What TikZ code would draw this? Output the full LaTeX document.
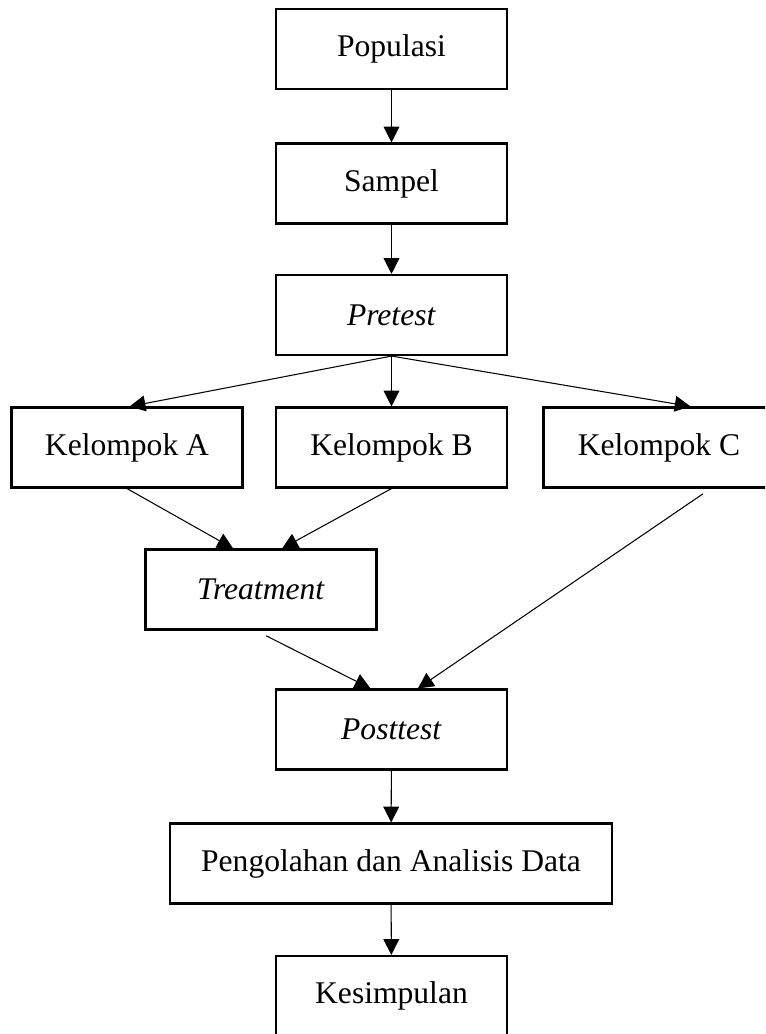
\documentclass[tikz,border=0pt]{standalone}
\usepackage{fontspec}
\setmainfont{Liberation Serif}
\usetikzlibrary{arrows.meta}

\begin{document}
\begin{tikzpicture}[
  x=0.38pt, y={(0pt,-0.38pt)},
  box/.style={draw, line width=0.8pt, minimum width=87.8pt, minimum height=30.4pt,
              inner sep=2pt, font=\fontsize{12pt}{14pt}\selectfont},
  wide/.style={box, minimum width=168pt},
  arr/.style={-{Triangle[length=6pt,width=6pt]}, line width=0.4pt},
]
\path[use as bounding box, clip] (0,0) rectangle (765,1034);

\node[box] (pop) at (391.5,49) {Populasi};
\node[box] (smp) at (391.5,183.5) {Sampel};
\node[box] (pre) at (391.5,315) {\textit{Pretest}};

\node[box] (ka) at (127,447.5) {Kelompok A};
\node[box] (kb) at (391.5,447.5) {Kelompok B};
\node[box] (kc) at (659,447.5) {Kelompok C};

\node[box] (trt) at (261,589.5) {\textit{Treatment}};
\node[box] (post) at (391.5,729.5) {\textit{Posttest}};
\node[wide] (olah) at (391,863.5) {Pengolahan dan Analisis Data};
\node[box] (simp) at (391.5,996) {Kesimpulan};

\draw[arr] (pop) -- (smp);
\draw[arr] (smp) -- (pre);
\draw[arr] (pre.south) -- ([xshift=1pt]ka.north);
\draw[arr] (pre.south) -- (kb.north);
\draw[arr] (pre.south) -- ([xshift=12pt]kc.north);
\draw[arr] (ka.south) -- ([xshift=-10.6pt]trt.north);
\draw[arr] (kb.south) -- ([xshift=8pt]trt.north);
\draw[arr] ([xshift=2pt,yshift=-2pt]trt.south) -- ([xshift=-8pt]post.north);
\draw[arr] ([xshift=16.7pt,yshift=-2pt]kc.south) -- ([xshift=10pt]post.north);
\draw[arr] (post) -- (olah);
\draw[arr] (olah) -- (simp);
\end{tikzpicture}
\end{document}
